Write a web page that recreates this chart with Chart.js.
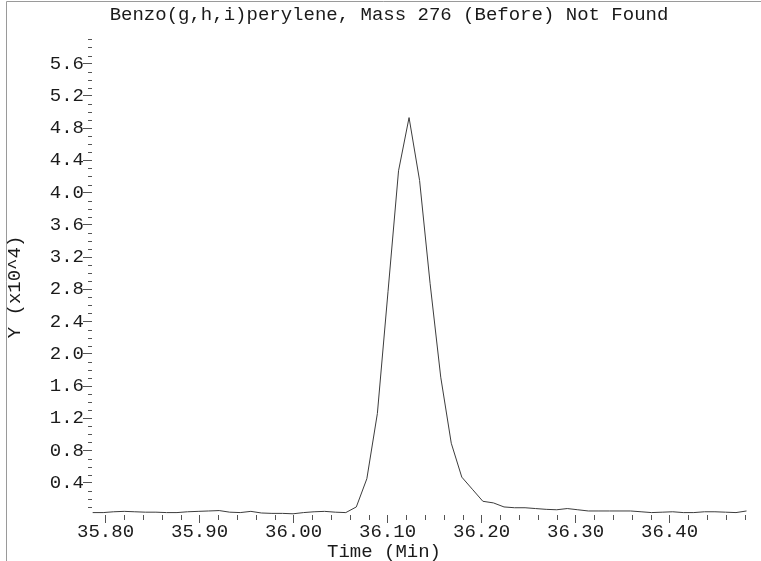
<!DOCTYPE html>
<html lang="en">
<head>
  <meta charset="UTF-8">
  <title>Benzo(g,h,i)perylene, Mass 276</title>
  <script src="https://cdn.jsdelivr.net/npm/chart.js"></script>
  <style>
    html, body {
      margin: 0;
      padding: 0;
      background: #fff;
    }
    canvas {
      display: block;
    }
  </style>
</head>
<body>
  <canvas id="chrom" width="761" height="561"></canvas>

  <script>
    // retention time (min)
    const times = [
      35.7863, 35.7975, 35.8087, 35.8199, 35.8311, 35.8424, 35.8536, 35.8648, 35.8760, 35.8872,
      35.8985, 35.9097, 35.9209, 35.9321, 35.9433, 35.9546, 35.9658, 35.9770, 35.9882, 35.9995,
      36.0107, 36.0219, 36.0331, 36.0444, 36.0556, 36.0668, 36.0780, 36.0892, 36.1005, 36.1117,
      36.1229, 36.1341, 36.1453, 36.1566, 36.1678, 36.1790, 36.1902, 36.2014, 36.2127, 36.2239,
      36.2351, 36.2463, 36.2575, 36.2688, 36.2800, 36.2912, 36.3024, 36.3136, 36.3249, 36.3361,
      36.3473, 36.3585, 36.3697, 36.3810, 36.3922, 36.4034, 36.4146, 36.4258, 36.4371, 36.4483,
      36.4595, 36.4707, 36.4819
    ];

    // abundance, x10^4
    const intensity = [
      0.030, 0.030, 0.040, 0.045, 0.040, 0.035, 0.035, 0.030, 0.030, 0.040,
      0.045, 0.050, 0.055, 0.035, 0.030, 0.045, 0.025, 0.020, 0.020, 0.015,
      0.030, 0.040, 0.045, 0.035, 0.030, 0.10, 0.45, 1.26, 2.77, 4.27,
      4.93, 4.15, 2.87, 1.71, 0.89, 0.47, 0.32, 0.17, 0.15, 0.10,
      0.09, 0.09, 0.08, 0.07, 0.065, 0.08, 0.065, 0.05, 0.05, 0.05,
      0.05, 0.05, 0.04, 0.03, 0.035, 0.04, 0.03, 0.03, 0.04, 0.04,
      0.035, 0.03, 0.05
    ];

    const xTicks = [35.80, 35.90, 36.00, 36.10, 36.20, 36.30, 36.40];
    const yTicks = [0.4, 0.8, 1.2, 1.6, 2.0, 2.4, 2.8, 3.2, 3.6, 4.0, 4.4, 4.8, 5.2, 5.6];

    const titleText = "Benzo(g,h,i)perylene, Mass 276 (Before) Not Found";
    const xTitle = "Time (Min)";
    const yTitle = "Y (x10^4)";

    const FONT = '"Liberation Mono", "DejaVu Sans Mono", monospace';
    const INK = "#1a1a1a";
    const TICK = "#555";

    // frame lines, minor ticks and axis titles
    const extras = {
      id: "extras",
      afterDraw(chart) {
        const ctx = chart.ctx;
        const area = chart.chartArea;
        const x = chart.scales.x;
        const y = chart.scales.y;
        ctx.save();

        ctx.strokeStyle = "#9a9a9a";
        ctx.lineWidth = 1;
        ctx.beginPath();
        ctx.moveTo(6.5, 561);
        ctx.lineTo(6.5, 1.5);
        ctx.lineTo(761, 1.5);
        ctx.stroke();

        ctx.strokeStyle = TICK;
        ctx.beginPath();
        for (let i = 1; i <= 59; i++) {
          if (i % 4 === 0) continue;
          const py = Math.round(y.getPixelForValue(i / 10)) + 0.5;
          ctx.moveTo(area.left - 4, py);
          ctx.lineTo(area.left, py);
        }
        for (let i = 0; i <= 35; i++) {
          if (i % 5 === 0) continue;
          const v = 35.80 + i * 0.02;
          if (v > x.max) break;
          const px = Math.round(x.getPixelForValue(v)) + 0.5;
          ctx.moveTo(px, area.bottom);
          ctx.lineTo(px, area.bottom + 5);
        }
        ctx.stroke();

        ctx.fillStyle = INK;
        ctx.font = "19px " + FONT;
        ctx.textAlign = "center";
        ctx.textBaseline = "middle";
        ctx.fillText(xTitle, 384, 552);
        ctx.translate(15, 287);
        ctx.rotate(-Math.PI / 2);
        ctx.fillText(yTitle, 0, 0);
        ctx.restore();
      }
    };

    new Chart(document.getElementById("chrom"), {
      type: "line",
      data: {
        datasets: [{
          data: times.map((t, i) => ({ x: t, y: intensity[i] })),
          borderColor: "#3c3c3c",
          borderWidth: 1,
          pointRadius: 0,
          tension: 0,
          fill: false
        }]
      },
      options: {
        responsive: false,
        animation: false,
        devicePixelRatio: 1,
        layout: { padding: { left: 28, right: 11, top: 0, bottom: 0 } },
        plugins: {
          legend: { display: false },
          tooltip: { enabled: false },
          title: {
            display: true,
            text: titleText,
            color: INK,
            font: { family: FONT, size: 19, weight: "normal" },
            padding: { top: 4, bottom: 11 }
          }
        },
        scales: {
          x: {
            type: "linear",
            min: 35.7856,
            max: 36.4856,
            afterBuildTicks: s => { s.ticks = xTicks.map(v => ({ value: v })); },
            afterFit: s => { s.height = 46; },
            border: { display: false },
            grid: { drawOnChartArea: false, drawTicks: true, tickLength: 8, color: TICK },
            ticks: {
              color: INK,
              padding: -2,
              maxRotation: 0,
              autoSkip: false,
              font: { family: FONT, size: 19 },
              callback: v => v.toFixed(2)
            }
          },
          y: {
            type: "linear",
            min: 0,
            max: 5.92,
            afterBuildTicks: s => { s.ticks = yTicks.map(v => ({ value: v })); },
            afterFit: s => { s.width = 64; },
            border: { display: false },
            grid: { drawOnChartArea: false, drawTicks: true, tickLength: 9, color: TICK },
            ticks: {
              color: INK,
              padding: -1,
              autoSkip: false,
              font: { family: FONT, size: 19 },
              callback: v => v.toFixed(1)
            }
          }
        }
      },
      plugins: [extras]
    });
  </script>
</body>
</html>
